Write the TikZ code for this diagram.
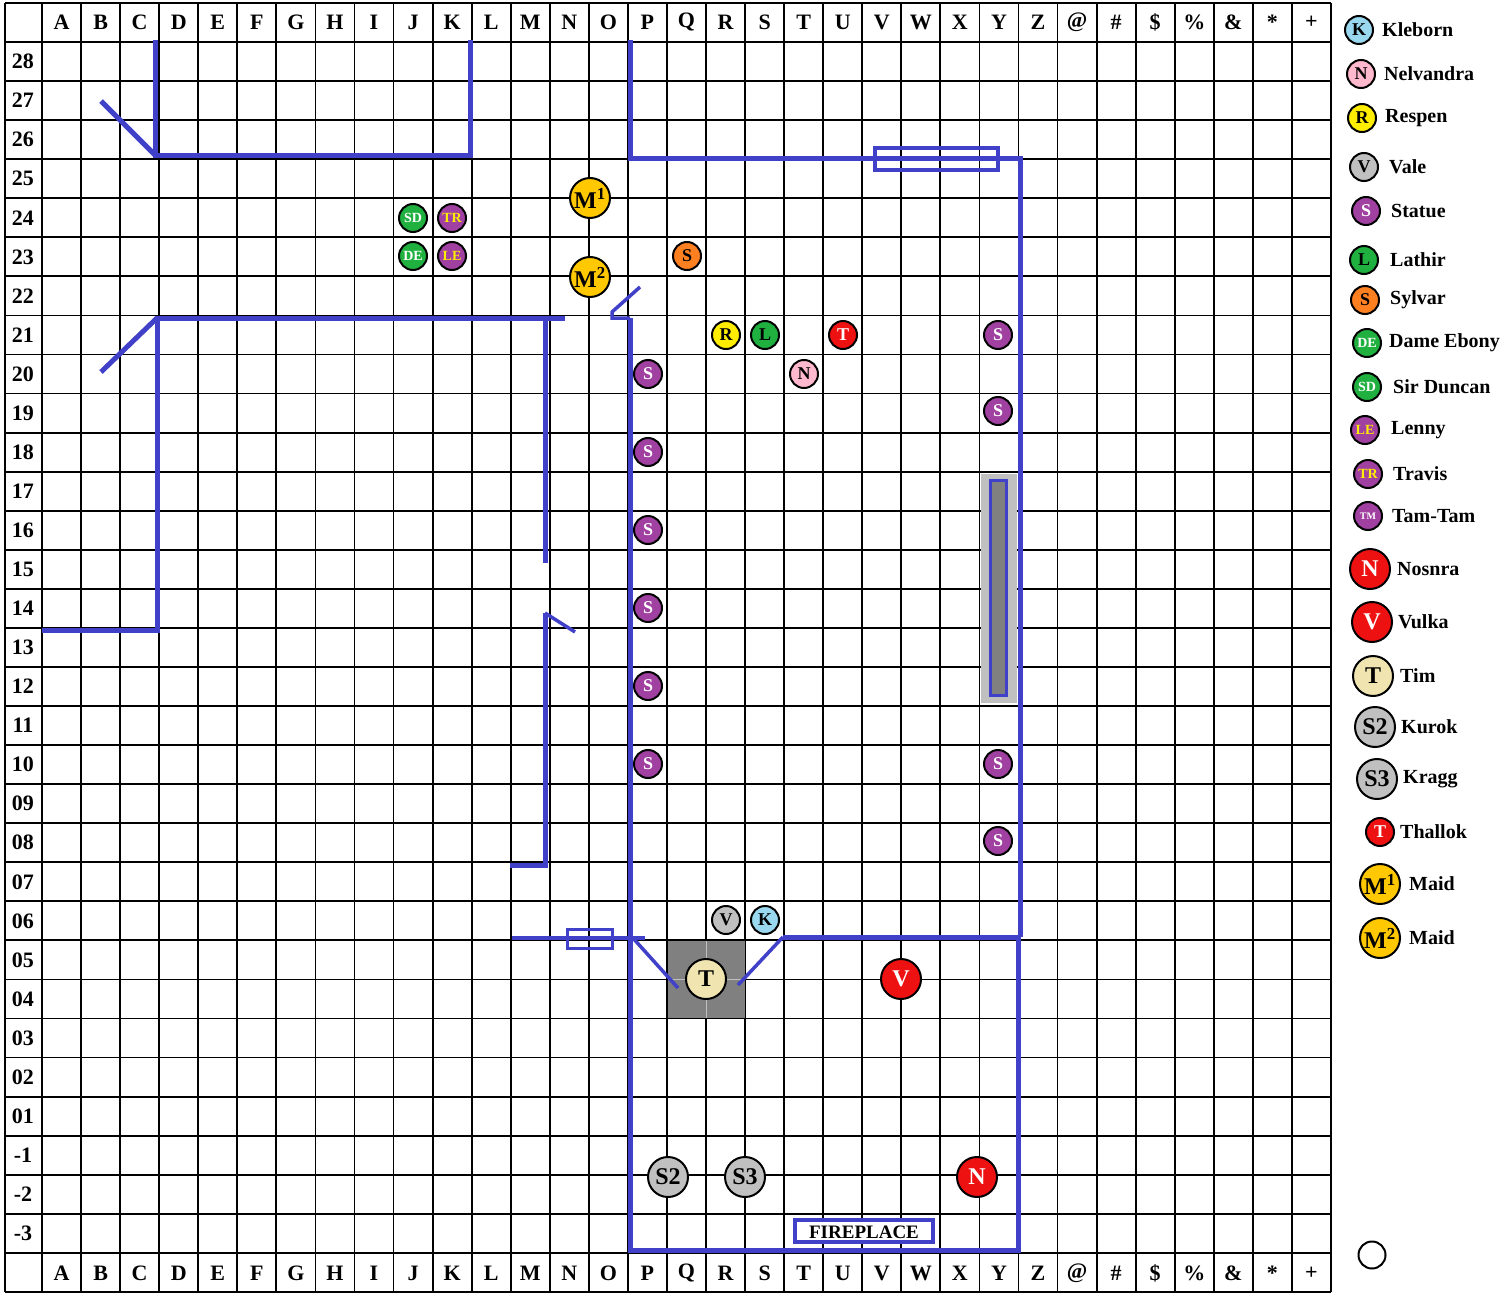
\documentclass[tikz,border=0pt]{standalone}
\usepackage{fontspec}
\setmainfont{Liberation Serif}
\begin{document}
\begin{tikzpicture}[x=1pt,y=-1pt,
  wall/.style={draw=wallc,line width=5pt},
  wallthin/.style={draw=wallc,line width=3.5pt},
  tok/.style={circle,draw=black,line width=2pt,inner sep=0pt,minimum size=28pt,font=\bfseries\fontsize{18}{18}\selectfont},
  tokx/.style={tok,font=\bfseries\fontsize{14}{14}\selectfont},
  big/.style={tok,minimum size=40pt,font=\bfseries\fontsize{24}{24}\selectfont},
  lab/.style={anchor=west,font=\bfseries\fontsize{20}{20}\selectfont,inner sep=0pt},
  hdr/.style={font=\bfseries\fontsize{22}{22}\selectfont,inner sep=0pt}]
\definecolor{wallc}{HTML}{4040C8}
\definecolor{purp}{HTML}{A040A0}
\definecolor{grn}{HTML}{20B040}
\definecolor{orng}{HTML}{FF8020}
\definecolor{yel}{HTML}{FFEE00}
\definecolor{maid}{HTML}{FFC800}
\definecolor{lblue}{HTML}{99D8EE}
\definecolor{pink}{HTML}{FFB8CC}
\definecolor{gry}{HTML}{C0C0C0}
\definecolor{dgry}{HTML}{808080}
\definecolor{tan}{HTML}{F0E4B0}
\definecolor{redt}{HTML}{EE1111}
\useasboundingbox (0,0) rectangle (1509,1295);
\fill[white] (0,0) rectangle (1509,1295);
% grid
\foreach \i in {0,...,33} \draw[line width=1.8pt] ({42+39.06*\i},3) -- ({42+39.06*\i},1292);
\draw[line width=1.8pt] (5,3) -- (5,1292);
\foreach \j in {0,...,32} \draw[line width=1.8pt] (5,{42+39.06*\j}) -- (1331,{42+39.06*\j});
\draw[line width=1.8pt] (5,3) -- (1331,3);
% headers
\foreach \l [count=\c from 0] in {A,B,C,D,E,F,G,H,I,J,K,L,M,N,O,P,Q,R,S,T,U,V,W,X,Y,Z,@,\#,\$,\%,\&,*,+} {
  \node[hdr] (ht\c) at ({42+39.06*(\c+0.5)},22) {\l};
  \node[hdr] (hb\c) at ({42+39.06*(\c+0.5)},1273) {\l};
}
\foreach \l [count=\r from 0] in {28,27,26,25,24,23,22,21,20,19,18,17,16,15,14,13,12,11,10,09,08,07,06,05,04,03,02,01,-1,-2,-3}
  \node[hdr] (r\r) at (23,{42+39.06*(\r+0.5)}) {\l};
% shaded areas
\fill[dgry] (668,941) rectangle (745,1018);
\draw[gry,line width=1.5pt] (706.5,941) -- (706.5,1018) (668,979.6) -- (745,979.6);
\fill[gry] (981,474) rectangle (1017,703);
\filldraw[fill=dgry,draw=wallc,line width=3pt] (990,480) rectangle (1006,695);
% walls
\draw[wall] (155,40) -- (155,155) -- (470,155) -- (470,40);
\draw[wall] (101,101) -- (155,155);
\draw[wall] (630,40) -- (630,158) -- (1020,158) -- (1020,937);
\draw[draw=wallc,line width=3.5pt] (875,148) rectangle (998,170);
\draw[wall] (565,318) -- (157,318) -- (157,630) -- (42,630);
\draw[wall] (101,372) -- (157,318);
\draw[wall] (545,318) -- (545,563);
\draw[wall] (510,865) -- (545,865) -- (545,613);
\draw[wallthin] (545,613) -- (575,632);
\draw[wallthin] (640,287) -- (612,312) -- (612,318) -- (630,318);
\draw[wall] (630,318) -- (630,1250) -- (1018,1250) -- (1018,937) -- (783,937);
\draw[wallthin] (783,937) -- (738,985);
\draw[wallthin] (512,938) -- (645,938);
\draw[wallthin] (632,937) -- (678,988);
\draw[draw=wallc,line width=3pt] (567,929) rectangle (612,948);
\filldraw[fill=white,draw=wallc,line width=4pt] (795,1220) rectangle (933,1242);
\node[font=\bfseries\fontsize{19}{19}\selectfont,inner sep=0pt] (fp) at (864,1232) {FIREPLACE};
% tokens
\node[tokx,fill=grn,text=white] (sd) at (413,218) {SD};
\node[tokx,fill=purp,text=yel] (tr) at (452,218) {TR};
\node[tokx,fill=grn,text=white] (de) at (413,256) {DE};
\node[tokx,fill=purp,text=yel] (le) at (452,256) {LE};
\node[big,fill=maid] (m1) at (590,198) {M\textsuperscript{1}};
\node[big,fill=maid] (m2) at (590,277) {M\textsuperscript{2}};
\node[tok,fill=orng] (syl) at (687,256) {S};
\node[tok,fill=yel] (res) at (726,335) {R};
\node[tok,fill=grn] (lat) at (765,335) {L};
\node[tok,fill=redt,text=white] (tha) at (843,335) {T};
\node[tok,fill=pink] (nel) at (804,374) {N};
\node[tok,fill=gry] (val) at (726,920) {V};
\node[tok,fill=lblue] (kle) at (765,920) {K};
\foreach \x/\y [count=\k] in {998/335,648/374,998/411,648/452,648/530,648/608,648/686,648/764,998/764,998/841}
  \node[tok,fill=purp,text=white] (st\k) at (\x,\y) {S};
\node[big,fill=tan] (tim) at (706,979) {T};
\node[big,fill=redt,text=white] (vul) at (901,979) {V};
\node[big,fill=gry] (s2) at (668,1177) {S2};
\node[big,fill=gry] (s3) at (745,1177) {S3};
\node[big,fill=redt,text=white] (nos) at (977,1177) {N};
% legend
\node[tok,fill=lblue] (lk) at (1359,30) {K}; \node[lab] (tk) at (1382,30) {Kleborn};
\node[tok,fill=pink] (ln) at (1361,74) {N}; \node[lab] (tn) at (1384,74) {Nelvandra};
\node[tok,fill=yel] (lr) at (1362,118) {R}; \node[lab] (trr) at (1385,118) {Respen};
\node[tok,fill=gry] (lv) at (1364,167) {V}; \node[lab] (tv) at (1389,167) {Vale};
\node[tok,fill=purp,text=white] (ls) at (1366,211) {S}; \node[lab] (ts) at (1391,211) {Statue};
\node[tok,fill=grn] (ll) at (1364,260) {L}; \node[lab] (tl) at (1390,260) {Lathir};
\node[tok,fill=orng] (lsy) at (1365,300) {S}; \node[lab] (tsy) at (1390,300) {Sylvar};
\node[tokx,fill=grn,text=white] (lde) at (1367,343) {DE}; \node[lab] (tde) at (1389,343) {Dame Ebony};
\node[tokx,fill=grn,text=white] (lsd) at (1367,387) {SD}; \node[lab] (tsd) at (1393,387) {Sir Duncan};
\node[tokx,fill=purp,text=yel] (lle) at (1365,430) {LE}; \node[lab] (tle) at (1391,430) {Lenny};
\node[tokx,fill=purp,text=yel] (ltr) at (1368,474) {TR}; \node[lab] (ttr) at (1393,474) {Travis};
\node[tok,fill=purp,text=white,font=\bfseries\fontsize{10}{10}\selectfont] (ltm) at (1368,516) {TM}; \node[lab] (ttm) at (1392,516) {Tam-Tam};
\node[big,fill=redt,text=white] (lno) at (1370,569) {N}; \node[lab] (tno) at (1397,569) {Nosnra};
\node[big,fill=redt,text=white] (lvu) at (1372,622) {V}; \node[lab] (tvu) at (1398,622) {Vulka};
\node[big,fill=tan] (lti) at (1373,676) {T}; \node[lab] (tti) at (1400,676) {Tim};
\node[big,fill=gry] (lku) at (1375,727) {S2}; \node[lab] (tku) at (1401,727) {Kurok};
\node[big,fill=gry] (lkr) at (1377,779) {S3}; \node[lab] (tkr) at (1403,779) {Kragg};
\node[tok,fill=redt,text=white] (lth) at (1380,832) {T}; \node[lab] (tth) at (1400,832) {Thallok};
\node[big,fill=maid] (lm1) at (1380,884) {M\textsuperscript{1}}; \node[lab] (tm1) at (1409,884) {Maid};
\node[big,fill=maid] (lm2) at (1380,938) {M\textsuperscript{2}}; \node[lab] (tm2) at (1409,938) {Maid};
\node[circle,draw=black,line width=2pt,minimum size=27pt,inner sep=0pt] (empty) at (1372,1255) {};
\end{tikzpicture}
\end{document}
